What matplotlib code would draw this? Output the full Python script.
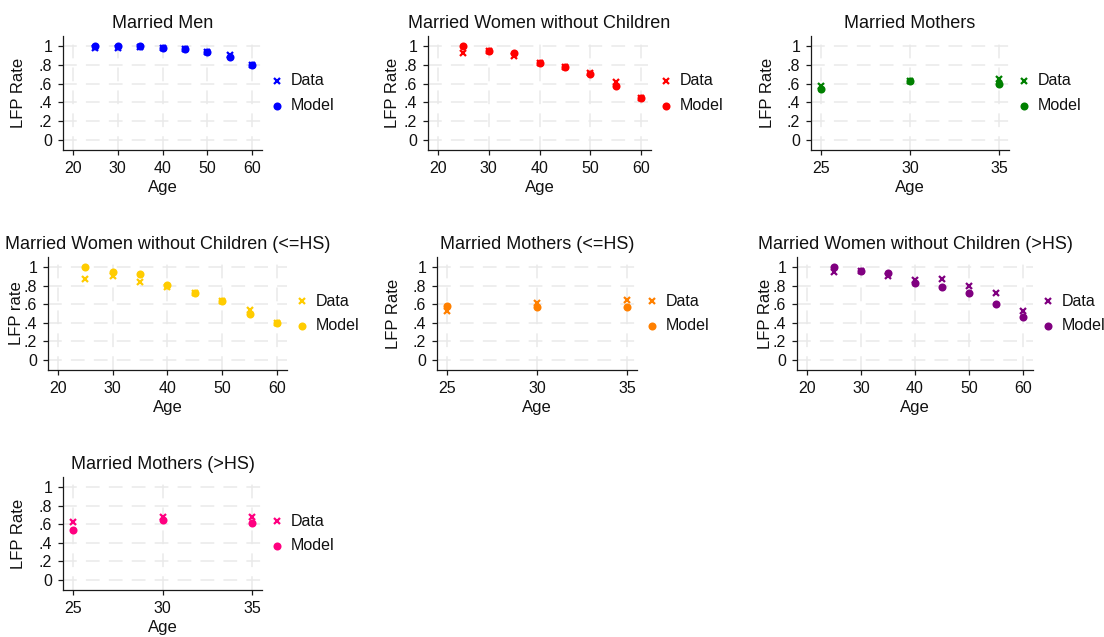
import matplotlib
matplotlib.use("Agg")
import matplotlib.pyplot as plt

plt.rcParams["font.family"] = ["Liberation Sans", "DejaVu Sans"]

# ---- data -------------------------------------------------------------
ages_full = [25, 30, 35, 40, 45, 50, 55, 60]
ages_young = [25, 30, 35]

men_data = [0.98, 0.98, 0.99, 0.98, 0.97, 0.94, 0.905, 0.80]
men_model = [1.00, 1.00, 0.995, 0.978, 0.968, 0.94, 0.878, 0.80]

wnc_data = [0.93, 0.95, 0.89, 0.82, 0.78, 0.71, 0.62, 0.445]
wnc_model = [1.00, 0.95, 0.93, 0.82, 0.775, 0.70, 0.575, 0.445]

moth_data = [0.57, 0.625, 0.65]
moth_model = [0.546, 0.624, 0.60]

wnc_lhs_data = [0.875, 0.90, 0.84, 0.79, 0.725, 0.63, 0.535, 0.40]
wnc_lhs_model = [1.00, 0.95, 0.93, 0.81, 0.725, 0.63, 0.495, 0.40]

moth_lhs_data = [0.53, 0.61, 0.65]
moth_lhs_model = [0.58, 0.575, 0.57]

wnc_hhs_data = [0.945, 0.955, 0.90, 0.86, 0.87, 0.80, 0.725, 0.525]
wnc_hhs_model = [1.00, 0.955, 0.94, 0.83, 0.79, 0.72, 0.60, 0.46]

moth_hhs_data = [0.62, 0.675, 0.68]
moth_hhs_model = [0.535, 0.64, 0.61]

y_ticks = [0, 0.2, 0.4, 0.6, 0.8, 1.0]
y_ticklabels = ["0", ".2", ".4", ".6", ".8", "1"]
x_ticks_full = [20, 30, 40, 50, 60]
x_ticks_young = [25, 30, 35]

# ---- layout (pixel boxes: left, right, top, bottom; y-title centre x) --
W, H = 1104, 637
fig = plt.figure(figsize=(W / 100, H / 100), dpi=100)

panels = [
    ("Married Men", "LFP Rate", ages_full, men_data, men_model, "#0000FF",
     x_ticks_full, (63, 262, 36, 150), 19),
    ("Married Women without Children", "LFP Rate", ages_full, wnc_data, wnc_model, "#FF0000",
     x_ticks_full, (428, 651, 36, 150), 392.5),
    ("Married Mothers", "LFP Rate", ages_young, moth_data, moth_model, "#008000",
     x_ticks_young, (811, 1009, 36, 150), 767),
    ("Married Women without Children (<=HS)", "LFP rate", ages_full, wnc_lhs_data, wnc_lhs_model,
     "#FFCC00", x_ticks_full, (48, 287, 257, 370), 16.5),
    ("Married Mothers (<=HS)", "LFP Rate", ages_young, moth_lhs_data, moth_lhs_model, "#FF8000",
     x_ticks_young, (437, 637, 257, 370), 393),
    ("Married Women without Children (>HS)", "LFP Rate", ages_full, wnc_hhs_data, wnc_hhs_model,
     "#800080", x_ticks_full, (797, 1033, 257, 370), 765),
    ("Married Mothers (>HS)", "LFP Rate", ages_young, moth_hhs_data, moth_hhs_model, "#FF0080",
     x_ticks_young, (63, 262, 477, 590), 19),
]

MARGIN = 10  # plot-region margin in pixels
DOT = 5.8
CROSS = 4.2

for title, ylab, ages, data, model, color, xt, (l, r, t, b), ylab_x in panels:
    ax = fig.add_axes([l / W, 1 - b / H, (r - l) / W, (b - t) / H])
    w_px, h_px = r - l, b - t

    x0, x1 = xt[0], xt[-1]
    dx = (x1 - x0) * MARGIN / (w_px - 2 * MARGIN)
    ax.set_xlim(x0 - dx, x1 + dx)
    dy = 1.0 * MARGIN / (h_px - 2 * MARGIN)
    ax.set_ylim(-dy, 1 + dy)

    ax.grid(True, color="#EAEAEA", linewidth=1.1, linestyle=(0, (9, 6)), zorder=0)
    ax.set_axisbelow(True)

    ax.plot(ages, data, linestyle="none", marker="x", markersize=CROSS, markeredgewidth=1.6,
            color=color, zorder=3, clip_on=False)
    ax.plot(ages, model, linestyle="none", marker="o", markersize=DOT,
            color=color, markeredgewidth=0, zorder=4, clip_on=False)

    ax.set_xticks(xt)
    ax.set_yticks(y_ticks)
    ax.set_yticklabels(y_ticklabels)
    for s in ("top", "right"):
        ax.spines[s].set_visible(False)
    for s in ("left", "bottom"):
        ax.spines[s].set_color("#1a1a1a")
        ax.spines[s].set_linewidth(0.9)
    ax.tick_params(axis="both", direction="out", length=3.8, width=0.9, color="#1a1a1a",
                   labelsize=11.5, pad=4, labelcolor="#111111")

    ax.set_title(title, fontsize=13, pad=5.5, color="#111111")
    ax.set_xlabel("Age", fontsize=12, labelpad=3, color="#111111")
    ax.set_ylabel(ylab, fontsize=12, color="#111111", va="center")
    ax.yaxis.set_label_coords((ylab_x - l) / w_px, 0.5)

    # key to the right of the plot region
    mx = 1 + 14.5 / w_px
    tx = 1 + 29 / w_px
    y_data = 0.5 + 12.5 / h_px
    y_model = 0.5 - 12.5 / h_px
    ax.plot([mx], [y_data], transform=ax.transAxes, marker="x", markersize=CROSS,
            markeredgewidth=1.6, color=color, clip_on=False, linestyle="none")
    ax.plot([mx], [y_model], transform=ax.transAxes, marker="o", markersize=DOT,
            markeredgewidth=0, color=color, clip_on=False, linestyle="none")
    ax.text(tx, y_data, "Data", transform=ax.transAxes, fontsize=11.5,
            va="center", ha="left", color="#111111")
    ax.text(tx, y_model, "Model", transform=ax.transAxes, fontsize=11.5,
            va="center", ha="left", color="#111111")

fig.savefig("out.png", dpi=100, facecolor="white")
